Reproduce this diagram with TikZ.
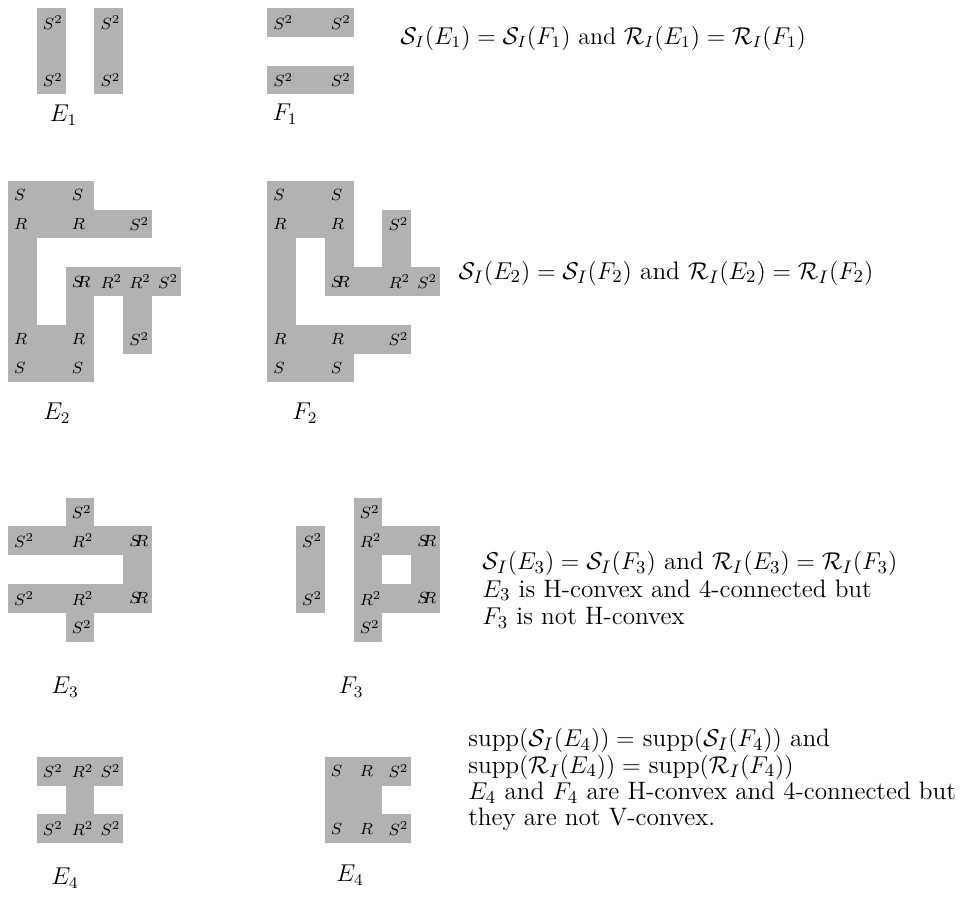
\documentclass[tikz,border=0pt]{standalone}
\usepackage{amsmath,amssymb}
\definecolor{cellgray}{gray}{0.7}
\tikzset{cell/.style={fill=cellgray},
  lab/.style={font=\footnotesize,inner sep=0pt,anchor=west},
  setlabel/.style={font=\large,inner sep=0pt},
  txt/.style={anchor=west,align=left,font=\fontsize{12.45}{13.6}\selectfont,inner sep=0pt}}
\begin{document}
\begin{tikzpicture}[x=0.5cm,y=-0.5cm]
    \useasboundingbox (-0.278,-0.278) rectangle (33.056,30.868);
    % E_1 and F_1
    \foreach \c/\r in {1/0,1/1,1/2,3/0,3/1,3/2,9/0,10/0,11/0,9/2,10/2,11/2}
        \fill[cell] (\c,\r) rectangle ++(1,1);
    \foreach \c/\r in {1/0,1/2,3/0,3/2,9/0,11/0,9/2,11/2}
        \node[lab] (a-\c-\r) at (\c+0.2,\r+0.5) {$S^2$};
    \node[setlabel] (e1) at (1.93,3.72) {$E_1$};
    \node[setlabel] (f1) at (9.62,3.68) {$F_1$};
    \node[txt,font=\fontsize{11.85}{13.6}\selectfont] (t1) at (13.61,1.04) {$\mathcal{S}_I(E_1)=\mathcal{S}_I(F_1)$ and $\mathcal{R}_I(E_1)=\mathcal{R}_I(F_1)$};
    % E_2
    \begin{scope}[shift={(0,6)}]
        \foreach \c/\r in {0/0,1/0,2/0,0/1,1/1,2/1,3/1,4/1,0/2,0/3,2/3,3/3,4/3,5/3,
                           0/4,2/4,4/4,0/5,1/5,2/5,4/5,0/6,1/6,2/6}
            \fill[cell] (\c,\r) rectangle ++(1,1);
        \foreach \c/\r/\t in {0/0/S,2/0/S,0/1/R,2/1/R,4/1/S^2,2/3/S\!\!R,3/3/R^2,4/3/R^2,5/3/S^2,
                              0/5/R,2/5/R,4/5/S^2,0/6/S,2/6/S}
            \node[lab] (b-\c-\r) at (\c+0.2,\r+0.5) {$\t$};
    \end{scope}
    % F_2
    \begin{scope}[shift={(9,6)}]
        \foreach \c/\r in {0/0,1/0,2/0,0/1,1/1,2/1,4/1,0/2,2/2,4/2,0/3,2/3,3/3,4/3,5/3,
                           0/4,0/5,1/5,2/5,3/5,4/5,0/6,1/6,2/6}
            \fill[cell] (\c,\r) rectangle ++(1,1);
        \foreach \c/\r/\t in {0/0/S,2/0/S,0/1/R,2/1/R,4/1/S^2,2/3/S\!\!R,4/3/R^2,5/3/S^2,
                              0/5/R,2/5/R,4/5/S^2,0/6/S,2/6/S}
            \node[lab] (c-\c-\r) at (\c+0.2,\r+0.5) {$\t$};
    \end{scope}
    \node[setlabel] (e2) at (1.70,14.06) {$E_2$};
    \node[setlabel] (f2) at (10.31,14.06) {$F_2$};
    \node[txt] (t2) at (15.63,9.2) {$\mathcal{S}_I(E_2)=\mathcal{S}_I(F_2)$ and $\mathcal{R}_I(E_2)=\mathcal{R}_I(F_2)$};
    % E_3
    \begin{scope}[shift={(0,17)}]
        \foreach \c/\r in {2/0,0/1,1/1,2/1,3/1,4/1,4/2,0/3,1/3,2/3,3/3,4/3,2/4}
            \fill[cell] (\c,\r) rectangle ++(1,1);
        \foreach \c/\r/\t in {2/0/S^2,0/1/S^2,2/1/R^2,4/1/S\!\!R,0/3/S^2,2/3/R^2,4/3/S\!\!R,2/4/S^2}
            \node[lab] (d-\c-\r) at (\c+0.2,\r+0.5) {$\t$};
    \end{scope}
    % F_3
    \begin{scope}[shift={(10,17)}]
        \foreach \c/\r in {2/0,0/1,2/1,3/1,4/1,0/2,2/2,4/2,0/3,2/3,3/3,4/3,2/4}
            \fill[cell] (\c,\r) rectangle ++(1,1);
        \foreach \c/\r/\t in {2/0/S^2,0/1/S^2,2/1/R^2,4/1/S\!\!R,0/3/S^2,2/3/R^2,4/3/S\!\!R,2/4/S^2}
            \node[lab] (g-\c-\r) at (\c+0.2,\r+0.5) {$\t$};
    \end{scope}
    \node[setlabel] (e3) at (1.98,23.58) {$E_3$};
    \node[setlabel] (f3) at (11.91,23.58) {$F_3$};
    \node[txt] (t3) at (16.46,20.2) {$\mathcal{S}_I(E_3)=\mathcal{S}_I(F_3)$ and $\mathcal{R}_I(E_3)=\mathcal{R}_I(F_3)$\\
        $E_3$ is H-convex and 4-connected but\\
        $F_3$ is not H-convex};
    % E_4
    \begin{scope}[shift={(1,26)}]
        \foreach \c/\r in {0/0,1/0,2/0,1/1,0/2,1/2,2/2}
            \fill[cell] (\c,\r) rectangle ++(1,1);
        \foreach \c/\r/\t in {0/0/S^2,1/0/R^2,2/0/S^2,0/2/S^2,1/2/R^2,2/2/S^2}
            \node[lab] (h-\c-\r) at (\c+0.2,\r+0.5) {$\t$};
    \end{scope}
    % F_4
    \begin{scope}[shift={(11,26)}]
        \foreach \c/\r in {0/0,1/0,2/0,0/1,1/1,0/2,1/2,2/2}
            \fill[cell] (\c,\r) rectangle ++(1,1);
        \foreach \c/\r/\t in {0/0/S,1/0/R,2/0/S^2,0/2/S,1/2/R,2/2/S^2}
            \node[lab] (k-\c-\r) at (\c+0.2,\r+0.5) {$\t$};
    \end{scope}
    \node[setlabel] (e4) at (1.98,30.21) {$E_4$};
    \node[setlabel] (f4) at (11.875,30.1) {$E_4$};
    \node[txt,font=\fontsize{12.45}{13}\selectfont] (t4) at (15.97,26.8) {supp$(\mathcal{S}_I(E_4))=$ supp$(\mathcal{S}_I(F_4))$ and\\
        supp$(\mathcal{R}_I(E_4))=$ supp$(\mathcal{R}_I(F_4))$\\
        $E_4$ and $F_4$ are H-convex and 4-connected but\\
        they are not V-convex.};
\end{tikzpicture}
\end{document}
